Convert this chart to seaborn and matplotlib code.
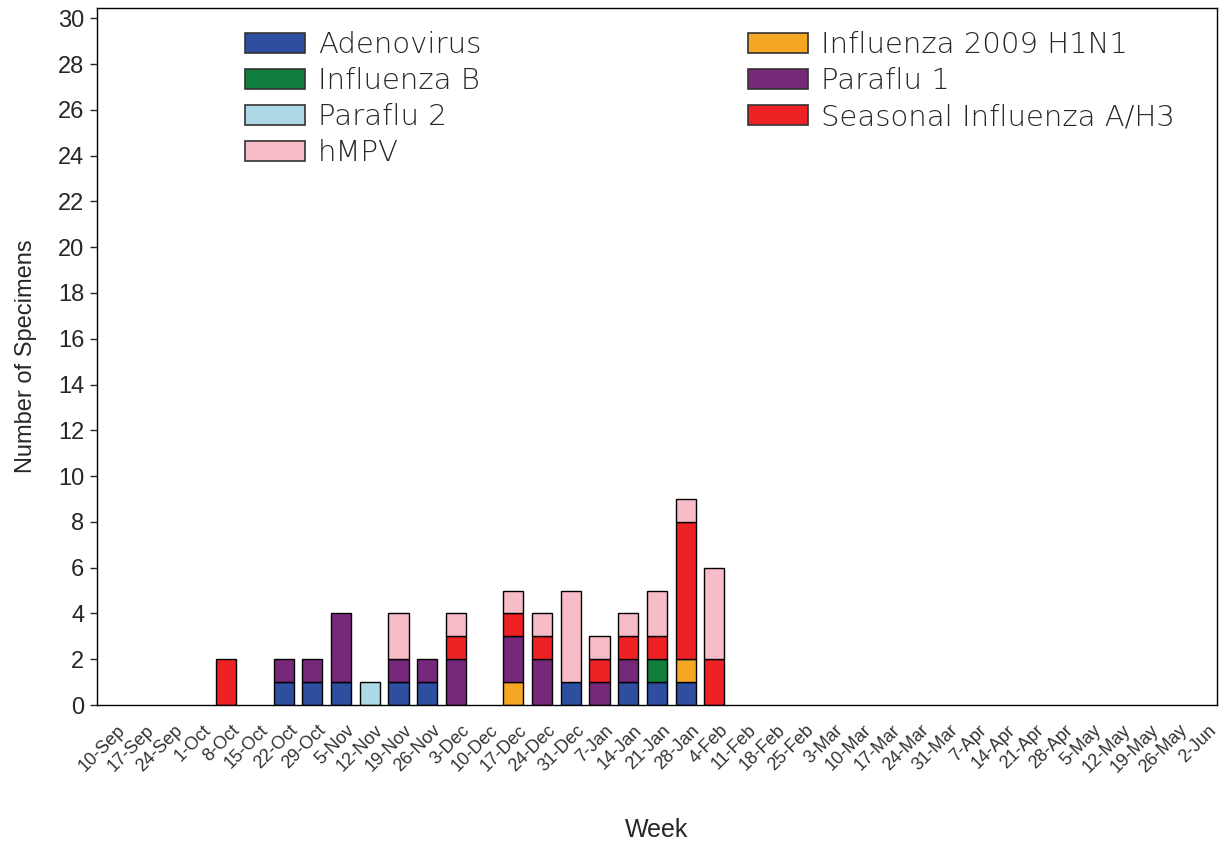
import matplotlib.pyplot as plt
import matplotlib.transforms as mtransforms
import pandas as pd
import seaborn as sns
import numpy as np
from matplotlib.patches import Patch

weeks = ['10-Sep', '17-Sep', '24-Sep', '1-Oct', '8-Oct', '15-Oct', '22-Oct', '29-Oct',
         '5-Nov', '12-Nov', '19-Nov', '26-Nov', '3-Dec', '10-Dec', '17-Dec', '24-Dec',
         '31-Dec', '7-Jan', '14-Jan', '21-Jan', '28-Jan', '4-Feb', '11-Feb', '18-Feb',
         '25-Feb', '3-Mar', '10-Mar', '17-Mar', '24-Mar', '31-Mar', '7-Apr', '14-Apr',
         '21-Apr', '28-Apr', '5-May', '12-May', '19-May', '26-May', '2-Jun']

# counts for weeks 10-Sep .. 4-Feb; later weeks are all zero
adenovirus = [0, 0, 0, 0, 0, 0, 1, 1, 1, 0, 1, 1, 0, 0, 0, 0, 1, 0, 1, 1, 1, 0]
influenza_b = [0, 0, 0, 0, 0, 0, 0, 0, 0, 0, 0, 0, 0, 0, 0, 0, 0, 0, 0, 1, 0, 0]
h1n1_2009 = [0, 0, 0, 0, 0, 0, 0, 0, 0, 0, 0, 0, 0, 0, 1, 0, 0, 0, 0, 0, 1, 0]
paraflu_1 = [0, 0, 0, 0, 0, 0, 1, 1, 3, 0, 1, 1, 2, 0, 2, 2, 0, 1, 1, 0, 0, 0]
paraflu_2 = [0, 0, 0, 0, 0, 0, 0, 0, 0, 1, 0, 0, 0, 0, 0, 0, 0, 0, 0, 0, 0, 0]
seasonal_h3 = [0, 0, 0, 0, 2, 0, 0, 0, 0, 0, 0, 0, 1, 0, 1, 1, 0, 1, 1, 1, 6, 2]
hmpv = [0, 0, 0, 0, 0, 0, 0, 0, 0, 0, 2, 0, 1, 0, 1, 1, 4, 1, 1, 2, 1, 4]

series = [
    ('Adenovirus', adenovirus, '#2E4FA0'),
    ('Influenza B', influenza_b, '#127E3E'),
    ('Influenza 2009 H1N1', h1n1_2009, '#F5A623'),
    ('Paraflu 1', paraflu_1, '#76287A'),
    ('Paraflu 2', paraflu_2, '#ADD8E6'),
    ('Seasonal Influenza A/H3', seasonal_h3, '#EE2224'),
    ('hMPV', hmpv, '#F8BBC8'),
]
legend_order = ['Adenovirus', 'Influenza B', 'Paraflu 2', 'hMPV',
                'Influenza 2009 H1N1', 'Paraflu 1', 'Seasonal Influenza A/H3']

sns.set_style('white')
plt.rcParams['font.family'] = ['Liberation Sans', 'DejaVu Sans']

fig, ax = plt.subplots(figsize=(12.24, 8.41), dpi=100)

bottom = np.zeros(len(weeks))
colors = {}
for name, vals, col in series:
    vals = np.array(vals + [0] * (len(weeks) - len(vals)), dtype=float)
    df = pd.DataFrame({'week': weeks, 'count': vals})
    sns.barplot(data=df, x='week', y='count', order=weeks, color=col, saturation=1,
                width=0.7, edgecolor='black', linewidth=1, bottom=bottom, ax=ax)
    bottom = bottom + vals
    colors[name] = col

for p in list(ax.patches):
    if p.get_height() == 0:
        p.remove()

ax.set_xlim(-0.5, len(weeks) - 0.5)
ax.set_ylim(0, 30.45)
ax.set_yticks(range(0, 31, 2))
ax.tick_params(axis='y', labelsize=17, length=5, width=1, left=True, pad=4)
ax.tick_params(axis='x', labelsize=13, length=0, pad=12)
offset = mtransforms.ScaledTranslation(5 / 100, 0, fig.dpi_scale_trans)
for lab in ax.get_xticklabels():
    lab.set_rotation(45)
    lab.set_ha('right')
    lab.set_va('top')
    lab.set_rotation_mode('anchor')
    lab.set_color('#333333')
    lab.set_transform(lab.get_transform() + offset)
ax.set_xlabel('Week', fontsize=18, labelpad=30)
ax.set_ylabel('Number of Specimens', fontsize=17, labelpad=15)
for s in ax.spines.values():
    s.set_color('black')
    s.set_linewidth(1)

handles = [Patch(facecolor=colors[n], edgecolor='#333333', linewidth=1.2, label=n) for n in legend_order]
ax.legend(handles=handles, ncol=2, loc='upper left', bbox_to_anchor=(0.132, 0.967),
          frameon=False, handlelength=2.06, handleheight=0.68,
          handletextpad=0.45, columnspacing=9.15, labelspacing=0.28,
          borderpad=0, borderaxespad=0,
          prop={'family': ['DejaVu Sans'], 'size': 21, 'weight': 'light'})

plt.subplots_adjust(left=0.0792, right=0.9943, top=0.9905, bottom=0.1617)
plt.savefig('out.png', dpi=100)
